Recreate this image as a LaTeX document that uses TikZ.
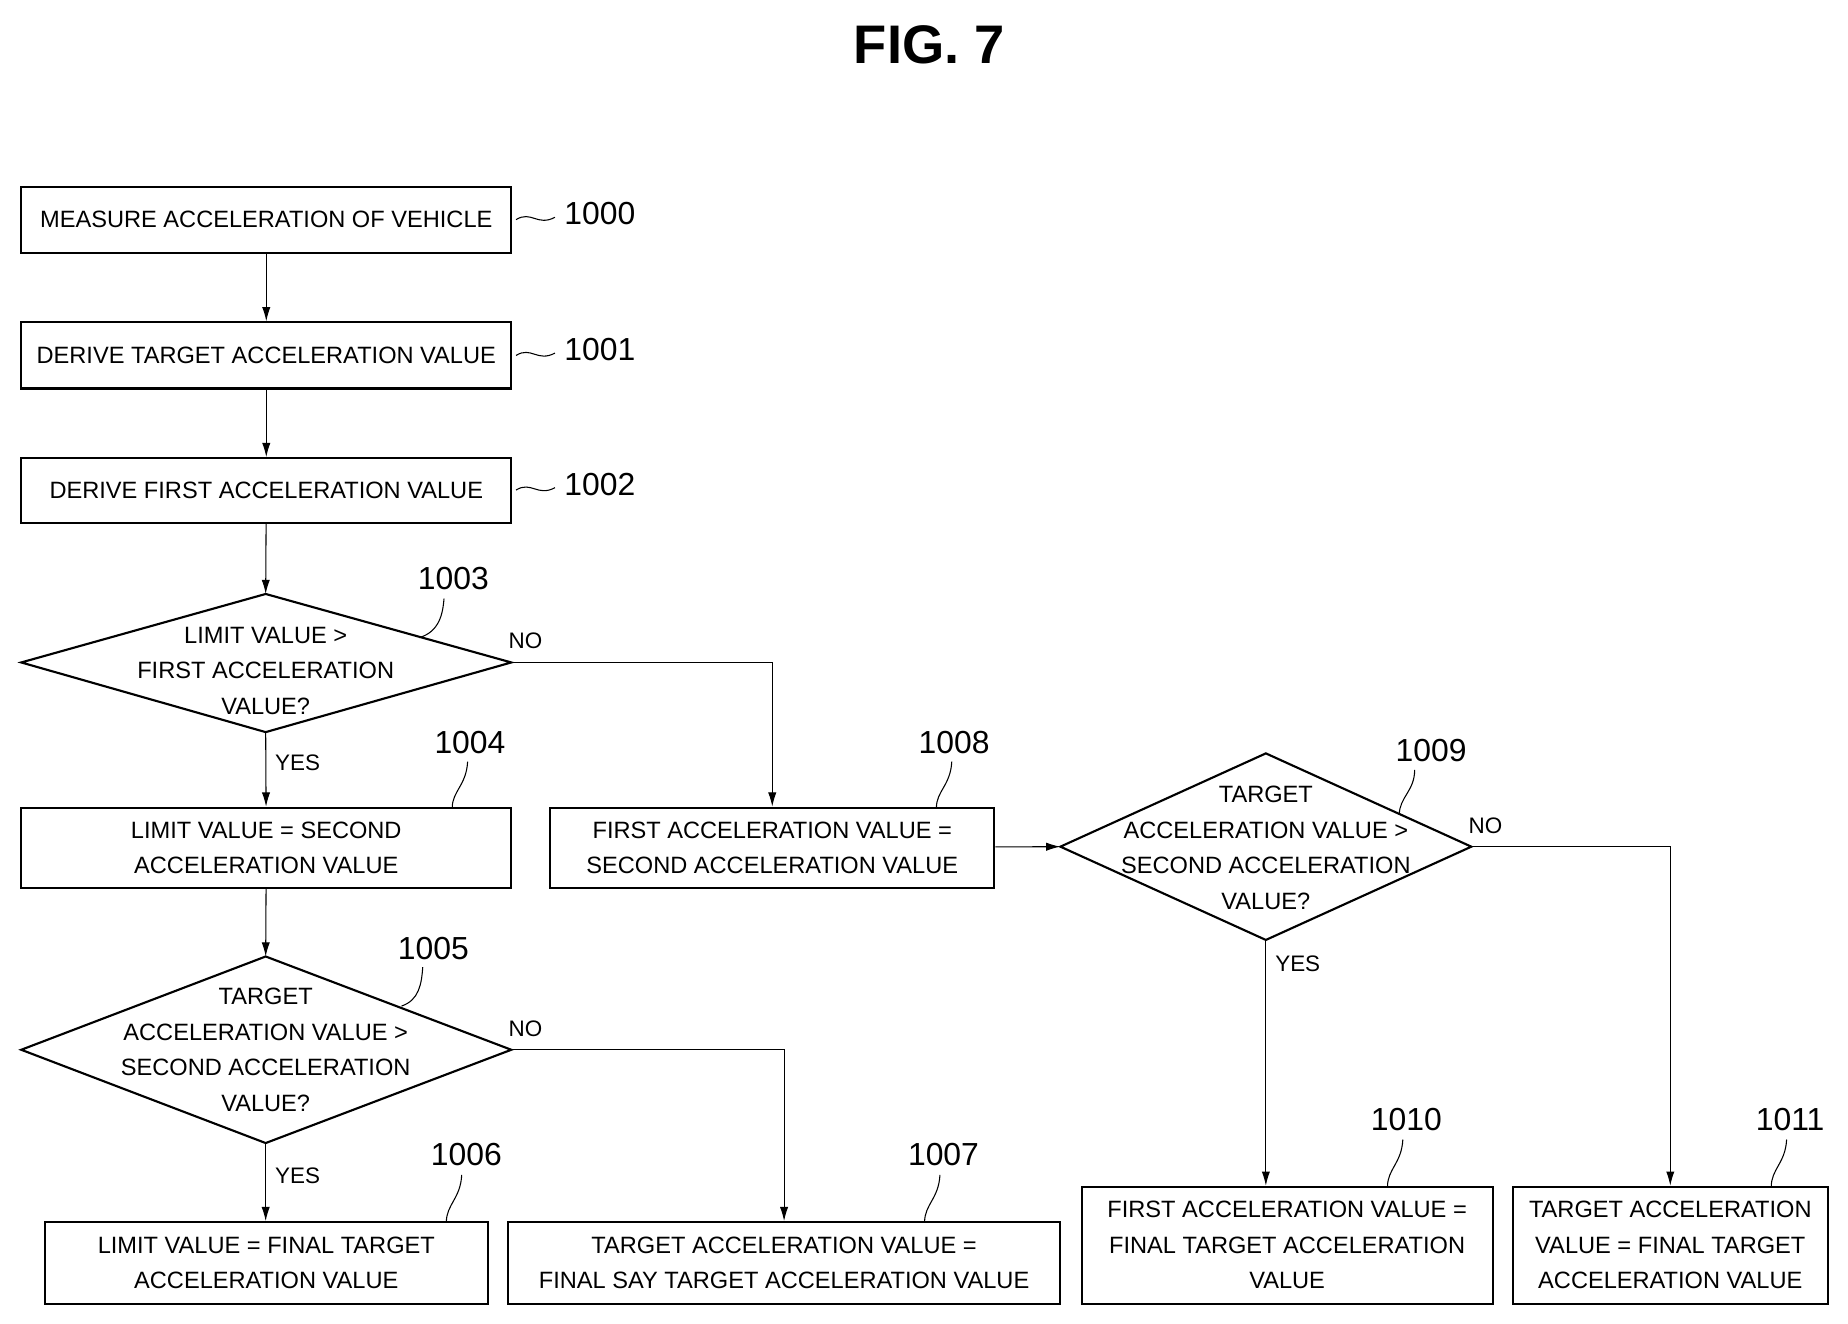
\documentclass[tikz,border=0pt]{standalone}
\usepackage{fontspec}
\setmainfont{Liberation Sans}
\usetikzlibrary{shapes.geometric,arrows.meta}
\begin{document}
\begin{tikzpicture}[x=1pt,y=-1pt,
  txt/.style={font=\fontsize{20}{30}\selectfont, align=center},
  box/.style={txt, draw, line width=1.8pt, inner sep=0pt},
  dia/.style={txt, draw, diamond, line width=1.8pt, inner sep=0pt},
  lab/.style={font=\fontsize{27}{30}\selectfont},
  yn/.style={font=\fontsize{19}{22}\selectfont},
  arr/.style={line width=0.9pt, -{Latex[length=12pt,width=7pt]}},
  ln/.style={line width=0.9pt}]
\useasboundingbox (0,0) rectangle (1565,1121);
\node[font=\bfseries\fontsize{46}{50}\selectfont] (title) at (787,38) {FIG. 7};
\newcommand{\bx}[6]{\node[box, minimum width=#4-#2, minimum height=#5-#3] (#1) at ({(#2+#4)/2},{(#3+#5)/2}) {#6};}
\bx{b0}{18}{158}{433}{214}{MEASURE ACCELERATION OF VEHICLE}
\bx{b1}{18}{273}{433}{329}{DERIVE TARGET ACCELERATION VALUE}
\bx{b2}{18}{388}{433}{443}{DERIVE FIRST ACCELERATION VALUE}
\bx{b4}{18}{684}{433}{752}{LIMIT VALUE = SECOND\\ACCELERATION VALUE}
\bx{b8}{466}{684}{842}{752}{FIRST ACCELERATION VALUE =\\SECOND ACCELERATION VALUE}
\bx{b6}{38}{1035}{413}{1104}{LIMIT VALUE = FINAL TARGET\\ACCELERATION VALUE}
\bx{b7}{430}{1035}{898}{1104}{TARGET ACCELERATION VALUE =\\FINAL SAY TARGET ACCELERATION VALUE}
\bx{b10}{916}{1005}{1264}{1104}{FIRST ACCELERATION VALUE =\\FINAL TARGET ACCELERATION\\VALUE}
\bx{b11}{1281}{1005}{1548}{1104}{TARGET ACCELERATION\\VALUE = FINAL TARGET\\ACCELERATION VALUE}
% diamonds drawn as paths
\coordinate (d3t) at (225,503); \coordinate (d3b) at (225,620);
\coordinate (d3l) at (18,561); \coordinate (d3r) at (433,561);
\draw[line width=1.8pt] (d3t)--(d3r)--(d3b)--(d3l)--cycle;
\node[txt] (d3) at (225,568) {LIMIT VALUE >\\FIRST ACCELERATION\\VALUE?};
\coordinate (d5t) at (225,810); \coordinate (d5b) at (225,968);
\coordinate (d5l) at (18,889); \coordinate (d5r) at (433,889);
\draw[line width=1.8pt] (d5t)--(d5r)--(d5b)--(d5l)--cycle;
\node[txt] (d5) at (225,889) {TARGET\\ACCELERATION VALUE >\\SECOND ACCELERATION\\VALUE?};
\coordinate (d9t) at (1072,638); \coordinate (d9b) at (1072,796);
\coordinate (d9l) at (898,717); \coordinate (d9r) at (1246,717);
\draw[line width=1.8pt] (d9t)--(d9r)--(d9b)--(d9l)--cycle;
\node[txt] (d9) at (1072,718) {TARGET\\ACCELERATION VALUE >\\SECOND ACCELERATION\\VALUE?};
% connectors
\draw[arr] (b0) -- (b1);
\draw[arr] (b1) -- (b2);
\draw[arr] (b2) -- (d3t);
\draw[arr] (d3b) -- (b4);
\draw[arr] (d3r) -| (b8);
\draw[arr] (b4) -- (d5t);
\draw[arr] (d5b) -- (b6.north -| d5b);
\draw[arr] (d5r) -| (b7);
\draw[arr] (b8) -- (d9l);
\draw[arr] (d9b) -- (b10.north -| d9b);
\draw[arr] (d9r) -| (b11);
% yes/no
\node[yn] (n3) at (445,543) {NO};
\node[yn] (y3) at (252,646) {YES};
\node[yn] (n5) at (445,871) {NO};
\node[yn] (y5) at (252,996) {YES};
\node[yn] (n9) at (1258,699) {NO};
\node[yn] (y9) at (1099,816) {YES};
% reference labels
\node[lab] (l0) at (508,181) {1000};
\node[lab] (l1) at (508,296) {1001};
\node[lab] (l2) at (508,410) {1002};
\foreach \n/\y in {l0/186,l1/301,l2/415}
  \draw[ln] (437,\y) .. controls (450,\y-8) and (455,\y+6) .. (470,\y-2);
\node[lab] (l3) at (384,490) {1003};
\draw[ln] (355,540) .. controls (372,535) and (375,520) .. (376,507);
\node[lab] (l4) at (398,629) {1004};
\draw[ln] (383,684) .. controls (383,670) and (395,665) .. (396,645);
\node[lab] (l8) at (808,629) {1008};
\draw[ln] (793,684) .. controls (793,670) and (805,665) .. (806,645);
\node[lab] (l9) at (1212,636) {1009};
\draw[ln] (1185,690) .. controls (1185,675) and (1198,670) .. (1198,652);
\node[lab] (l5) at (367,803) {1005};
\draw[ln] (340,852) .. controls (355,847) and (357,833) .. (358,819);
\node[lab] (l6) at (395,978) {1006};
\draw[ln] (378,1035) .. controls (378,1020) and (390,1015) .. (391,995);
\node[lab] (l7) at (799,978) {1007};
\draw[ln] (783,1035) .. controls (783,1020) and (795,1015) .. (796,995);
\node[lab] (l10) at (1191,948) {1010};
\draw[ln] (1175,1005) .. controls (1175,990) and (1187,985) .. (1188,965);
\node[lab] (l11) at (1516,948) {1011};
\draw[ln] (1500,1005) .. controls (1500,990) and (1512,985) .. (1513,965);
\end{tikzpicture}
\end{document}
